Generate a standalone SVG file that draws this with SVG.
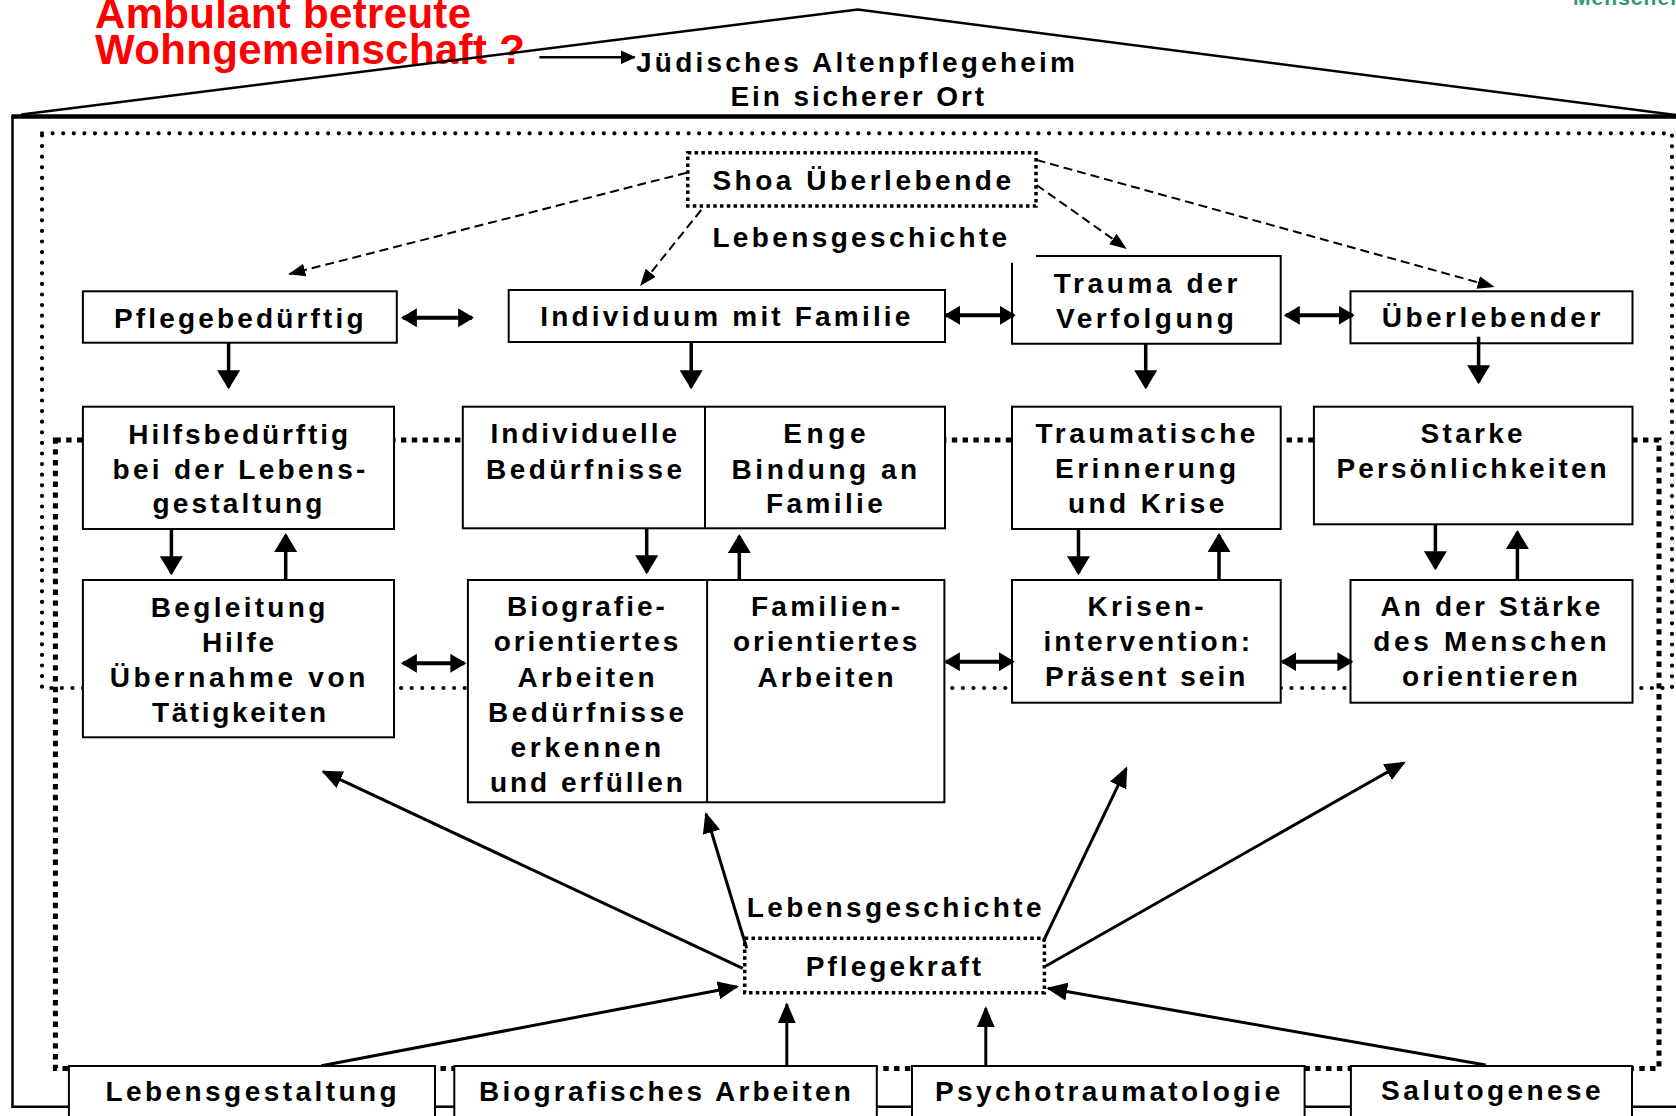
<svg xmlns="http://www.w3.org/2000/svg" width="1676" height="1116" viewBox="0 0 1676 1116">
<style>
.t{font-family:'Liberation Sans',Arial,Helvetica,sans-serif;font-weight:bold;font-size:28px;fill:#000}
.red{font-size:42px;fill:#ff0000}
.grn{font-size:21px;fill:#339966}
.box{fill:#fff;stroke:#000;stroke-width:2}
.wf{fill:#fff;stroke:none}
.ln{fill:none;stroke:#000;stroke-width:2}
.dotbox{fill:#fff;stroke:#000;stroke-width:3.5;stroke-dasharray:3.5 3.3}
.sq{fill:none;stroke:#000;stroke-width:5;stroke-dasharray:5.4 5.4}
.rd{fill:none;stroke:#000;stroke-width:4.2;stroke-dasharray:0 10.6;stroke-linecap:round}
.c{fill:none;stroke:#000}
.dash{stroke-width:2;stroke-dasharray:9 5;marker-end:url(#ahd)}
.v{stroke-width:3.5;marker-end:url(#ahv)}
.h{stroke-width:4;marker-start:url(#ahh);marker-end:url(#ahh)}
.p{stroke-width:3;marker-end:url(#ahp)}
.q{stroke-width:2.5;marker-end:url(#ahq)}
</style>
<defs>
<marker id="ahv" viewBox="0 0 19 23" refX="17" refY="11.5" markerWidth="19" markerHeight="23" markerUnits="userSpaceOnUse" orient="auto"><path d="M0,0 L19,11.5 L0,23 z" fill="#000"/></marker>
<marker id="ahh" viewBox="0 0 16 19" refX="14" refY="9.5" markerWidth="16" markerHeight="19" markerUnits="userSpaceOnUse" orient="auto-start-reverse"><path d="M0,0 L16,9.5 L0,19 z" fill="#000"/></marker>
<marker id="ahp" viewBox="0 0 21 18" refX="19" refY="9" markerWidth="21" markerHeight="18" markerUnits="userSpaceOnUse" orient="auto"><path d="M0,0 L21,9 L0,18 z" fill="#000"/></marker>
<marker id="ahd" viewBox="0 0 17 13" refX="16" refY="6.5" markerWidth="17" markerHeight="13" markerUnits="userSpaceOnUse" orient="auto"><path d="M0,0 L17,6.5 L0,13 z" fill="#000"/></marker>
<marker id="ahq" viewBox="0 0 15 14" refX="14" refY="7" markerWidth="15" markerHeight="14" markerUnits="userSpaceOnUse" orient="auto"><path d="M0,0 L15,7 L0,14 z" fill="#000"/></marker>
</defs>
<rect x="0" y="0" width="1676" height="1116" fill="#fff"/>

<g id="question">
<text class="t red" x="95" y="28" textLength="376" lengthAdjust="spacing">Ambulant betreute</text>
<text class="t red" x="95" y="64" textLength="430" lengthAdjust="spacing">Wohngemeinschaft ?</text>
</g>
<text class="t grn" x="1573" y="5" textLength="110" lengthAdjust="spacing">Menschen</text>

<g id="house">
<path class="c" d="M21.4,114.5 L857.8,9.5 L1676,115" stroke-width="2.5"/>
<line class="c" x1="11.5" y1="116.5" x2="1676" y2="116.5" stroke-width="4.3"/>
<path class="c" d="M12.5,116 V1106.7 H70" stroke-width="2.5"/>
<line class="c" x1="434" y1="1106.7" x2="456" y2="1106.7" stroke-width="2.5"/>
<line class="c" x1="876" y1="1106.7" x2="913" y2="1106.7" stroke-width="2.5"/>
<line class="c" x1="1304" y1="1106.7" x2="1352" y2="1106.7" stroke-width="2.5"/>
<line class="c" x1="1631" y1="1106.7" x2="1676" y2="1106.7" stroke-width="2.5"/>
<rect class="rd" x="42" y="133.3" width="1630" height="554.7"/>
<rect class="sq" x="55.4" y="440" width="1603.6" height="628.5"/>
</g>

<g id="title">
<text class="t" x="636" y="71.7" textLength="439" lengthAdjust="spacing">Jüdisches Altenpflegeheim</text>
<text class="t" x="730.5" y="106" textLength="253.5" lengthAdjust="spacing">Ein sicherer Ort</text>
</g>

<g id="shoa">
<rect class="dotbox" x="687.8" y="152.7" width="348.2" height="53.3"/>
<text class="t" x="712.4" y="190" textLength="298.6" lengthAdjust="spacing">Shoa Überlebende</text>
</g>
<g id="label-lebensgeschichte-top">
<text class="t" x="712.4" y="246.7" textLength="294.8" lengthAdjust="spacing">Lebensgeschichte</text>
</g>

<g id="pflegebeduerftig">
<rect class="box" x="82.9" y="291.3" width="313.9" height="51.4"/>
<text class="t" x="114" y="328.3" textLength="249.5" lengthAdjust="spacing">Pflegebedürftig</text>
</g>
<g id="individuum">
<rect class="box" x="508.7" y="290" width="436.3" height="52"/>
<text class="t" x="540.2" y="326" textLength="370.2" lengthAdjust="spacing">Individuum mit Familie</text>
</g>
<g id="trauma">
<rect class="wf" x="1012" y="256" width="268.7" height="87.7"/>
<path class="ln" d="M1036,256 H1280.7 V343.7 H1012 V262.7"/>
<text class="t" x="1053.8" y="292.7" textLength="183.5" lengthAdjust="spacing">Trauma der</text>
<text class="t" x="1056" y="327.7" textLength="177.8" lengthAdjust="spacing">Verfolgung</text>
</g>
<g id="ueberlebender">
<rect class="box" x="1350.5" y="291.3" width="282" height="52"/>
<text class="t" x="1381.8" y="327.3" textLength="218.5" lengthAdjust="spacing">Überlebender</text>
</g>

<g id="hilfsbeduerftig">
<rect class="box" x="82.9" y="406.7" width="311.1" height="122.3"/>
<text class="t" x="128.3" y="444" textLength="219.7" lengthAdjust="spacing">Hilfsbedürftig</text>
<text class="t" x="112.6" y="479" textLength="252.7" lengthAdjust="spacing">bei der Lebens-</text>
<text class="t" x="152.6" y="513" textLength="169.8" lengthAdjust="spacing">gestaltung</text>
</g>
<g id="individuelle-enge">
<rect class="box" x="462.8" y="406.7" width="482.2" height="121.6"/>
<line class="ln" x1="705" y1="406.7" x2="705" y2="528.3"/>
<text class="t" x="490.5" y="443.3" textLength="186.5" lengthAdjust="spacing">Individuelle</text>
<text class="t" x="486" y="479" textLength="196" lengthAdjust="spacing">Bedürfnisse</text>
<text class="t" x="783.2" y="443.3" textLength="82.4" lengthAdjust="spacing">Enge</text>
<text class="t" x="731.6" y="479" textLength="185.6" lengthAdjust="spacing">Bindung an</text>
<text class="t" x="766" y="513" textLength="116.8" lengthAdjust="spacing">Familie</text>
</g>
<g id="traumatische">
<rect class="box" x="1012" y="406.7" width="268.7" height="122.3"/>
<text class="t" x="1035.6" y="442.7" textLength="219.8" lengthAdjust="spacing">Traumatische</text>
<text class="t" x="1055" y="478.3" textLength="181" lengthAdjust="spacing">Erinnerung</text>
<text class="t" x="1068" y="513" textLength="156.3" lengthAdjust="spacing">und Krise</text>
</g>
<g id="starke">
<rect class="box" x="1313.9" y="406.7" width="318.6" height="117.6"/>
<text class="t" x="1420.6" y="442.7" textLength="102.1" lengthAdjust="spacing">Starke</text>
<text class="t" x="1336.6" y="478.3" textLength="270.1" lengthAdjust="spacing">Persönlichkeiten</text>
</g>

<g id="begleitung">
<rect class="box" x="82.9" y="580" width="311.1" height="157.3"/>
<text class="t" x="150.8" y="616.7" textLength="174.5" lengthAdjust="spacing">Begleitung</text>
<text class="t" x="201.9" y="651.7" textLength="72.3" lengthAdjust="spacing">Hilfe</text>
<text class="t" x="109.7" y="686.7" textLength="255.6" lengthAdjust="spacing">Übernahme von</text>
<text class="t" x="151.9" y="721.7" textLength="174.1" lengthAdjust="spacing">Tätigkeiten</text>
</g>
<g id="biografie-familien">
<rect class="box" x="467.9" y="580" width="476.5" height="222.3"/>
<line class="ln" x1="707.1" y1="580" x2="707.1" y2="802.3"/>
<text class="t" x="507.1" y="616" textLength="157.8" lengthAdjust="spacing">Biografie-</text>
<text class="t" x="493.7" y="650.7" textLength="184.6" lengthAdjust="spacing">orientiertes</text>
<text class="t" x="517.5" y="686.7" textLength="137" lengthAdjust="spacing">Arbeiten</text>
<text class="t" x="488" y="721.7" textLength="196" lengthAdjust="spacing">Bedürfnisse</text>
<text class="t" x="510.6" y="756.7" textLength="150.4" lengthAdjust="spacing">erkennen</text>
<text class="t" x="489.9" y="791.7" textLength="193" lengthAdjust="spacing">und erfüllen</text>
<text class="t" x="750.9" y="616" textLength="149.3" lengthAdjust="spacing">Familien-</text>
<text class="t" x="732.9" y="650.7" textLength="184.5" lengthAdjust="spacing">orientiertes</text>
<text class="t" x="757.4" y="686.7" textLength="136.3" lengthAdjust="spacing">Arbeiten</text>
</g>
<g id="krisen">
<rect class="box" x="1012" y="580" width="268.7" height="122.7"/>
<text class="t" x="1087.4" y="616" textLength="116.2" lengthAdjust="spacing">Krisen-</text>
<text class="t" x="1043.4" y="650.7" textLength="206.8" lengthAdjust="spacing">intervention:</text>
<text class="t" x="1045.1" y="686" textLength="200.3" lengthAdjust="spacing">Präsent sein</text>
</g>
<g id="staerke">
<rect class="box" x="1350.5" y="580" width="282" height="122.7"/>
<text class="t" x="1380.5" y="616" textLength="219.8" lengthAdjust="spacing">An der Stärke</text>
<text class="t" x="1373.2" y="650.7" textLength="233.5" lengthAdjust="spacing">des Menschen</text>
<text class="t" x="1402.1" y="686" textLength="175.7" lengthAdjust="spacing">orientieren</text>
</g>

<g id="label-lebensgeschichte-bottom">
<text class="t" x="746.8" y="916.7" textLength="294.7" lengthAdjust="spacing">Lebensgeschichte</text>
</g>
<g id="pflegekraft">
<rect class="dotbox" x="744.7" y="938.3" width="299.7" height="54.4"/>
<text class="t" x="805.7" y="976" textLength="175.4" lengthAdjust="spacing">Pflegekraft</text>
</g>

<g id="lebensgestaltung">
<rect class="box" x="68.9" y="1066" width="366.1" height="70"/>
<text class="t" x="105.4" y="1101" textLength="291.3" lengthAdjust="spacing">Lebensgestaltung</text>
</g>
<g id="biografisches-arbeiten">
<rect class="box" x="454.3" y="1066" width="422.5" height="70"/>
<text class="t" x="479" y="1101" textLength="371.8" lengthAdjust="spacing">Biografisches Arbeiten</text>
</g>
<g id="psychotraumatologie">
<rect class="box" x="912" y="1066" width="392.6" height="70"/>
<text class="t" x="935" y="1101" textLength="345.3" lengthAdjust="spacing">Psychotraumatologie</text>
</g>
<g id="salutogenese">
<rect class="box" x="1350.9" y="1066" width="281.1" height="70"/>
<text class="t" x="1381.1" y="1100" textLength="219.5" lengthAdjust="spacing">Salutogenese</text>
</g>

<g id="connectors">
<line class="c q" x1="539.4" y1="57.3" x2="634.7" y2="57.3"/>
<line class="c dash" x1="686.7" y1="172.7" x2="289.3" y2="274"/>
<line class="c dash" x1="701.2" y1="210" x2="640.7" y2="285.3"/>
<line class="c dash" x1="1036.6" y1="185" x2="1125.9" y2="248.3"/>
<line class="c dash" x1="1036.6" y1="160" x2="1493.6" y2="286.7"/>
<line class="c v" x1="228.6" y1="342.7" x2="228.6" y2="387.3"/>
<line class="c v" x1="691.2" y1="342" x2="691.2" y2="387.3"/>
<line class="c v" x1="1145.7" y1="343.7" x2="1145.7" y2="387.3"/>
<line class="c v" x1="1478.6" y1="336.7" x2="1478.6" y2="382.3"/>
<line class="c v" x1="171.4" y1="529" x2="171.4" y2="573.3"/>
<line class="c v" x1="646.7" y1="528.3" x2="646.7" y2="572.3"/>
<line class="c v" x1="1078.5" y1="529" x2="1078.5" y2="573.3"/>
<line class="c v" x1="1435.4" y1="524.3" x2="1435.4" y2="568.3"/>
<line class="c v" x1="285.7" y1="580" x2="285.7" y2="535"/>
<line class="c v" x1="739.3" y1="580" x2="739.3" y2="536"/>
<line class="c v" x1="1219" y1="580" x2="1219" y2="535"/>
<line class="c v" x1="1517.4" y1="580" x2="1517.4" y2="532"/>
<line class="c h" x1="402.9" y1="317.7" x2="472.1" y2="317.7"/>
<line class="c h" x1="946" y1="315.3" x2="1013.8" y2="315.3"/>
<line class="c h" x1="1285.8" y1="315.3" x2="1352.7" y2="315.3"/>
<line class="c h" x1="402.9" y1="663.3" x2="464.3" y2="663.3"/>
<line class="c h" x1="945.9" y1="661.7" x2="1012.9" y2="661.7"/>
<line class="c h" x1="1282.4" y1="661.7" x2="1351.4" y2="661.7"/>
<line class="c p" x1="742.8" y1="968.3" x2="323.2" y2="771.7"/>
<line class="c p" x1="746.7" y1="948.3" x2="706" y2="814"/>
<line class="c p" x1="1043.2" y1="941.7" x2="1126.3" y2="768.3"/>
<line class="c p" x1="1045.9" y1="966" x2="1404" y2="762.7"/>
<line class="c p" x1="321.4" y1="1065.7" x2="737" y2="986.7"/>
<line class="c p" x1="786.8" y1="1065.7" x2="786.8" y2="1004.3"/>
<line class="c p" x1="985.8" y1="1065.7" x2="985.8" y2="1008.3"/>
<line class="c p" x1="1485.7" y1="1065" x2="1048.2" y2="988.3"/>
</g>
</svg>
